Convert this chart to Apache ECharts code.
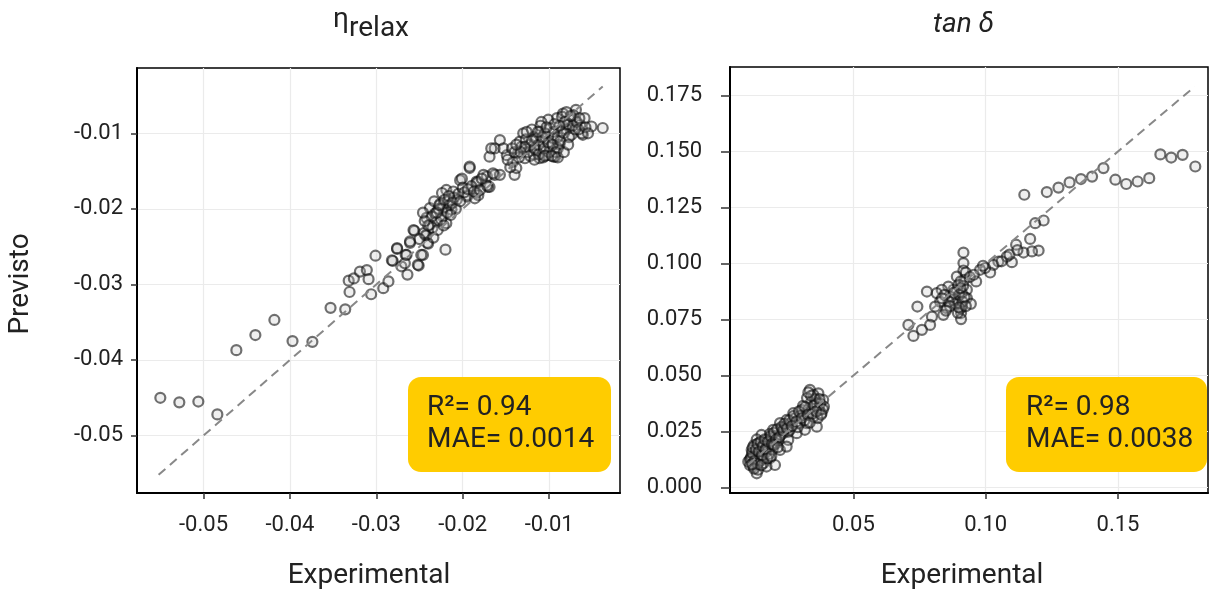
<!DOCTYPE html>
<html>
<head>
<meta charset="utf-8">
<script src="https://cdn.jsdelivr.net/npm/echarts@6/dist/echarts.min.js"></script>
<style>
html,body{margin:0;padding:0;background:#fff;}
#chart{width:1211px;height:592px;}
</style>
</head>
<body>
<div id="chart"></div>
<script>
// ---- Data: eta_relax panel (Experimental, Previsto)
const etaExp = [
-0.0550,-0.0528,-0.0506,-0.0484,-0.0462,-0.0440,-0.0418,-0.0397,-0.0374,-0.0353,-0.0336,-0.0331,-0.0332,-0.0326,-0.0319,-0.0311,-0.0309,-0.0306,-0.0301,-0.0292,-0.0286,-0.0281,-0.0276,-0.0271,-0.0266,-0.0264,-0.0261,-0.0256,-0.0251,-0.0246,-0.0243,-0.0241,-0.0220,
-0.0192,-0.0203,-0.0182,-0.0172,-0.0169,-0.0219,-0.0211,-0.0224,-0.0195,-0.0184,-0.0207,-0.0217,-0.0226,-0.0238,-0.0223,-0.0213,-0.0232,-0.0242,-0.0223,-0.0230,-0.0238,-0.0219,-0.0257,-0.0242,-0.0261,-0.0240,-0.0276,-0.0265,-0.0248,-0.0282,-0.0267,-0.0252,
-0.0201,-0.0195,-0.0184,-0.0182,-0.0171,-0.0163,-0.0157,-0.0186,
-0.0038,-0.0051,-0.0061,-0.0069,-0.0076,-0.0084,-0.0091,-0.0101,-0.0109,-0.0099,-0.0086,-0.0074,-0.0064,-0.0111,-0.0118,-0.0130,-0.0134,-0.0122,-0.0107,-0.0095,-0.0088,-0.0115,-0.0103,-0.0093,-0.0111,-0.0128,-0.0136,-0.0142,-0.0140,-0.0157,-0.0163,-0.0169,-0.0149,-0.0153,-0.0143,-0.0099,-0.0115,-0.0080,-0.0072,-0.0059,-0.0192,-0.0176,-0.0184,-0.0165,-0.0172,-0.0167,-0.0138,-0.0095,-0.0107,-0.0115,-0.0062,
-0.0125,-0.0120,-0.0110,-0.0105,-0.0095,-0.0090,-0.0080,-0.0078,-0.0070,-0.0085,-0.0132,-0.0127,-0.0118,-0.0100,-0.0090,-0.0135,-0.0145,-0.0148,-0.0140,-0.0112,
-0.0228,-0.0225,-0.0215,-0.0210,-0.0205,-0.0200,-0.0235,-0.0233,-0.0218,-0.0190,-0.0178,-0.0245,-0.0250,
-0.0128,-0.0122,-0.0117,-0.0112,-0.0106,-0.0101,-0.0096,-0.0092,-0.0087,-0.0083,-0.0077,-0.0073,-0.0068,-0.0065,-0.0082,-0.0088,-0.0094,-0.0103,-0.0108,-0.0113,-0.0120,-0.0126,-0.0133,-0.0138,-0.0117,-0.0105,-0.0097,-0.0090,-0.0083,-0.0078,-0.0075,-0.0080,-0.0066,-0.0058,-0.0055,
-0.0240,-0.0236,-0.0230,-0.0227,-0.0221,-0.0216,-0.0212,-0.0208,-0.0203,-0.0198,-0.0194,-0.0229,-0.0234,-0.0222,-0.0214,-0.0244,-0.0246,-0.0187,-0.0180
];
const etaPred = [
-0.0450,-0.0456,-0.0455,-0.0472,-0.0387,-0.0367,-0.0347,-0.0375,-0.0376,-0.0331,-0.0333,-0.0310,-0.0295,-0.0292,-0.0283,-0.0281,-0.0293,-0.0313,-0.0262,-0.0305,-0.0296,-0.0269,-0.0253,-0.0276,-0.0261,-0.0287,-0.0245,-0.0229,-0.0275,-0.0261,-0.0235,-0.0245,-0.0254,
-0.0146,-0.0162,-0.0164,-0.0157,-0.0171,-0.0175,-0.0177,-0.0179,-0.0182,-0.0179,-0.0188,-0.0190,-0.0193,-0.0199,-0.0199,-0.0201,-0.0206,-0.0212,-0.0210,-0.0217,-0.0221,-0.0219,-0.0228,-0.0235,-0.0243,-0.0246,-0.0252,-0.0261,-0.0261,-0.0268,-0.0272,-0.0274,
-0.0160,-0.0184,-0.0166,-0.0182,-0.0171,-0.0155,-0.0155,-0.0186,
-0.0093,-0.0091,-0.0102,-0.0069,-0.0082,-0.0074,-0.0080,-0.0082,-0.0085,-0.0093,-0.0098,-0.0102,-0.0089,-0.0098,-0.0105,-0.0100,-0.0111,-0.0115,-0.0111,-0.0107,-0.0115,-0.0124,-0.0129,-0.0131,-0.0133,-0.0133,-0.0126,-0.0138,-0.0155,-0.0109,-0.0120,-0.0131,-0.0129,-0.0120,-0.0120,-0.0118,-0.0107,-0.0089,-0.0076,-0.0080,-0.0144,-0.0155,-0.0164,-0.0153,-0.0169,-0.0120,-0.0146,-0.0131,-0.0132,-0.0122,-0.0100,
-0.0125,-0.0095,-0.0090,-0.0100,-0.0098,-0.0105,-0.0095,-0.0088,-0.0095,-0.0078,-0.0118,-0.0108,-0.0128,-0.0125,-0.0120,-0.0132,-0.0145,-0.0135,-0.0125,-0.0115,
-0.0200,-0.0214,-0.0195,-0.0185,-0.0180,-0.0172,-0.0225,-0.0190,-0.0205,-0.0170,-0.0160,-0.0232,-0.0240,
-0.0118,-0.0130,-0.0120,-0.0128,-0.0120,-0.0112,-0.0115,-0.0125,-0.0110,-0.0100,-0.0105,-0.0090,-0.0085,-0.0080,-0.0085,-0.0090,-0.0088,-0.0092,-0.0105,-0.0098,-0.0110,-0.0098,-0.0125,-0.0115,-0.0135,-0.0130,-0.0130,-0.0132,-0.0125,-0.0115,-0.0077,-0.0072,-0.0095,-0.0092,-0.0100,
-0.0222,-0.0210,-0.0205,-0.0195,-0.0188,-0.0183,-0.0192,-0.0200,-0.0190,-0.0178,-0.0174,-0.0228,-0.0238,-0.0222,-0.0208,-0.0216,-0.0205,-0.0177,-0.0175
];
// ---- Data: tan delta panel
const tanExp = [
0.0336,0.0368,0.0386,0.0389,0.0362,0.0324,0.0305,0.0273,0.0248,0.0223,0.0197,0.0210,0.0172,0.0166,0.0135,0.0122,0.0109,0.0116,0.0141,0.0153,0.0185,0.0204,0.0172,0.0223,0.0254,0.0286,0.0324,0.0362,0.0349,0.0298,0.0260,0.0235,0.0380,0.0349,0.0317,0.0248,0.0147,0.0160,0.0122,0.0103,0.0128,
0.0130,0.0145,0.0160,0.0175,0.0190,0.0205,0.0215,0.0230,0.0245,0.0265,0.0280,0.0300,0.0315,0.0330,0.0340,0.0355,0.0370,0.0365,0.0150,0.0170,0.0115,0.0125,0.0135,0.0185,0.0195,0.0225,0.0255,0.0290,0.0310,0.0325,0.0375,0.0385,0.0110,0.0140,0.0160,
0.0112,0.0118,0.0120,0.0127,0.0132,0.0138,0.0143,0.0150,0.0155,0.0158,0.0165,0.0168,0.0178,0.0182,0.0188,0.0193,0.0200,0.0208,0.0212,0.0220,0.0228,0.0235,0.0240,0.0250,0.0258,0.0268,0.0275,0.0285,0.0295,0.0305,0.0318,0.0328,0.0335,0.0345,0.0352,0.0360,0.0372,0.0378,0.0340,0.0330,0.0138,0.0125,0.0118,0.0152,0.0175,0.0190,0.0200,0.0215,
0.1792,0.1744,0.1701,0.1660,0.1618,0.1574,0.1531,0.1490,0.1445,0.1402,0.1360,0.1317,0.1275,0.1231,0.1146,0.1219,0.1187,0.1200,0.1168,0.1175,0.1143,0.1115,0.1099,0.1080,0.1048,0.1029,0.1017,0.0998,0.0979,0.0964,
0.0916,0.0916,0.0916,0.0919,0.0929,0.0929,0.0944,0.0910,0.0910,0.0907,0.0907,0.0891,0.0878,0.0859,0.0853,0.0834,0.0815,0.0828,0.0809,0.0840,0.0797,0.0778,0.0742,0.0790,0.0759,0.0727,0.0708,0.0878,0.0897,
0.0870,0.0885,0.0900,0.0860,0.0845,0.0905,0.0895,0.0915,0.0925,0.0940,0.0955,0.0990,0.1060,0.1090,0.1120,
0.0880,0.0905,0.0912,0.0898,0.0865,0.0850,0.0835,0.0905,0.0920,0.0925
];
const tanPred = [
0.0436,0.0421,0.0392,0.0362,0.0272,0.0288,0.0347,0.0332,0.0302,0.0288,0.0258,0.0198,0.0213,0.0154,0.0064,0.0094,0.0124,0.0168,0.0198,0.0235,0.0131,0.0101,0.0094,0.0168,0.0213,0.0243,0.0332,0.0377,0.0414,0.0288,0.0258,0.0243,0.0332,0.0317,0.0258,0.0183,0.0139,0.0109,0.0139,0.0116,0.0109,
0.0150,0.0175,0.0200,0.0185,0.0220,0.0230,0.0210,0.0260,0.0275,0.0290,0.0310,0.0320,0.0300,0.0350,0.0380,0.0395,0.0345,0.0310,0.0120,0.0160,0.0140,0.0190,0.0215,0.0240,0.0170,0.0235,0.0250,0.0270,0.0365,0.0400,0.0375,0.0350,0.0100,0.0080,0.0130,
0.0130,0.0155,0.0180,0.0120,0.0170,0.0195,0.0160,0.0205,0.0145,0.0185,0.0215,0.0170,0.0205,0.0150,0.0230,0.0195,0.0245,0.0215,0.0260,0.0225,0.0270,0.0255,0.0285,0.0265,0.0300,0.0275,0.0320,0.0295,0.0340,0.0310,0.0360,0.0325,0.0290,0.0330,0.0365,0.0340,0.0395,0.0325,0.0410,0.0425,0.0105,0.0085,0.0105,0.0100,0.0130,0.0140,0.0190,0.0180,
0.1433,0.1485,0.1473,0.1487,0.1381,0.1366,0.1355,0.1374,0.1426,0.1388,0.1377,0.1362,0.1339,0.1319,0.1307,0.1192,0.1180,0.1058,0.1110,0.1054,0.1049,0.1084,0.1006,0.1031,0.1009,0.0994,0.0960,0.0980,0.0972,0.0920,
0.1049,0.1002,0.0969,0.0927,0.0883,0.0846,0.0820,0.0868,0.0808,0.0779,0.0752,0.0942,0.0883,0.0897,0.0801,0.0883,0.0868,0.0830,0.0808,0.0771,0.0763,0.0875,0.0808,0.0726,0.0704,0.0677,0.0726,0.0838,0.0905,
0.0850,0.0820,0.0860,0.0830,0.0860,0.0800,0.0780,0.0900,0.0960,0.0940,0.0950,0.0990,0.1010,0.1040,0.1060,
0.0870,0.0890,0.0830,0.0805,0.0810,0.0790,0.0845,0.0920,0.0850,0.0810
];
// identity reference line end points
const etaDiag = [-0.0552, -0.0038];
const tanDiag = [0.0103, 0.1790];
// tick labels
const etaXTicks = [-0.05, -0.04, -0.03, -0.02, -0.01];
const etaYTicks = [-0.05, -0.04, -0.03, -0.02, -0.01];
const tanXTicks = [0.05, 0.10, 0.15];
const tanYTicks = [0.000, 0.025, 0.050, 0.075, 0.100, 0.125, 0.150, 0.175];
// texts
const etaStats = ['R²= 0.94', 'MAE= 0.0014'];
const tanStats = ['R²= 0.98', 'MAE= 0.0038'];
const xTitle = 'Experimental';
const yTitle = 'Previsto';

const FONT = 'Roboto';
const TXT = '#222';
const pts = (xs, ys) => xs.map((x, i) => [x, ys[i]]);

const chart = echarts.init(document.getElementById('chart'), null, {renderer: 'canvas'});

function valAxis(idx, min, max, ticks, decimals, margin, tickLen) {
  return {
    type: 'value', gridIndex: idx, min: min, max: max,
    axisLine: {show: true, onZero: false, lineStyle: {color: '#000', width: 2}},
    axisTick: {show: true, length: tickLen, customValues: ticks, lineStyle: {color: '#333', width: 1.5}},
    axisLabel: {customValues: ticks, color: TXT, fontSize: 22, fontFamily: FONT, margin: margin,
      formatter: v => v.toFixed(decimals)},
    splitLine: {show: true, lineStyle: {color: '#ebebeb', width: 1.2}}
  };
}

const scatterStyle = {
  color: 'rgba(190,190,190,0.30)',
  borderColor: 'rgba(10,10,10,0.72)',
  borderWidth: 2.2
};
const textStyle = {fontSize: 28, fontFamily: FONT, fill: TXT};

const option = {
  backgroundColor: '#fff',
  animation: false,
  grid: [
    {left: 137, top: 68, width: 483, height: 425, show: true, borderColor: '#000', borderWidth: 1.5, backgroundColor: 'transparent'},
    {left: 730, top: 67, width: 478, height: 426, show: true, borderColor: '#000', borderWidth: 1.5, backgroundColor: 'transparent'}
  ],
  xAxis: [
    valAxis(0, -0.0577, -0.0018, etaXTicks, 2, 21, 6),
    valAxis(1, 0.0034, 0.184, tanXTicks, 2, 21, 6)
  ],
  yAxis: [
    valAxis(0, -0.0576, -0.00136, etaYTicks, 2, 14, 6),
    valAxis(1, -0.0024, 0.1877, tanYTicks, 3, 28, 9)
  ],
  series: [
    {type: 'scatter', xAxisIndex: 0, yAxisIndex: 0, data: pts(etaExp, etaPred), symbol: 'circle', symbolSize: 10, itemStyle: scatterStyle, z: 2},
    {type: 'scatter', xAxisIndex: 1, yAxisIndex: 1, data: pts(tanExp, tanPred), symbol: 'circle', symbolSize: 10, itemStyle: scatterStyle, z: 2},
    {type: 'line', xAxisIndex: 0, yAxisIndex: 0, data: [[etaDiag[0], etaDiag[0]], [etaDiag[1], etaDiag[1]]], symbol: 'none',
      lineStyle: {color: '#888', width: 2, type: [9, 6]}, z: 3},
    {type: 'line', xAxisIndex: 1, yAxisIndex: 1, data: [[tanDiag[0], tanDiag[0]], [tanDiag[1], tanDiag[1]]], symbol: 'none',
      lineStyle: {color: '#888', width: 2, type: [9, 6]}, z: 3}
  ],
  graphic: [
    {type: 'text', left: 333, top: 6, style: Object.assign({text: 'η'}, textStyle)},
    {type: 'text', left: 349, top: 15, style: Object.assign({text: 'relax'}, textStyle)},
    {type: 'text', left: 933, top: 11, style: Object.assign({text: 'tan δ', fontStyle: 'italic'}, textStyle)},
    {type: 'text', x: 369, y: 576, style: Object.assign({text: xTitle, align: 'center', verticalAlign: 'middle'}, textStyle)},
    {type: 'text', x: 962, y: 576, style: Object.assign({text: xTitle, align: 'center', verticalAlign: 'middle'}, textStyle)},
    {type: 'text', x: 21, y: 284, rotation: Math.PI / 2, style: Object.assign({text: yTitle, align: 'center', verticalAlign: 'middle'}, textStyle)},
    {type: 'rect', left: 408, top: 377, shape: {width: 203, height: 95, r: 13}, style: {fill: '#FFCC00'}, z: 10},
    {type: 'text', left: 427, top: 392, style: Object.assign({text: etaStats.join('\n'), lineHeight: 32}, textStyle), z: 11},
    {type: 'rect', left: 1006, top: 377, shape: {width: 201, height: 95, r: 13}, style: {fill: '#FFCC00'}, z: 10},
    {type: 'text', left: 1026, top: 392, style: Object.assign({text: tanStats.join('\n'), lineHeight: 32}, textStyle), z: 11}
  ]
};
chart.setOption(option);
</script>
</body>
</html>
